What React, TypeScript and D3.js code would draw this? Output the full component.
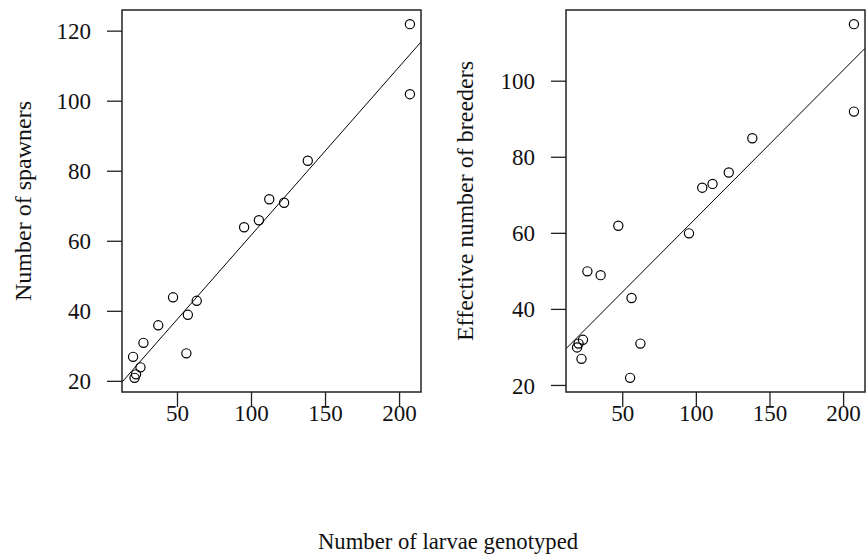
import React from "react";
import * as d3 from "d3";

// Left panel: number of larvae genotyped vs number of spawners
const larvaeA = [207, 207, 138, 112, 122, 105, 95, 47, 63, 57, 37, 27, 56, 20, 25, 22, 21];
const spawners = [122, 102, 83, 72, 71, 66, 64, 44, 43, 39, 36, 31, 28, 27, 24, 22, 21];
// Right panel: number of larvae genotyped vs effective number of breeders
const larvaeB = [207, 207, 138, 122, 111, 104, 47, 95, 26, 35, 56, 23, 20, 19, 62, 22, 55];
const breeders = [115, 92, 85, 76, 73, 72, 62, 60, 50, 49, 43, 32, 31, 30, 31, 27, 22];

const xTicks = [50, 100, 150, 200];
const yTicksA = [20, 40, 60, 80, 100, 120];
const yTicksB = [20, 40, 60, 80, 100];

// fitted regression lines (intercept, slope)
const fitA = [13.75, 0.481];
const fitB = [25.2, 0.389];

const FONT = "Times New Roman, Liberation Serif, Tinos, serif";
const FS_TICK = 23;
const FS_YLAB = 24;
const FS_XLAB = 22.7;

function rExtent(v: number[]): [number, number] {
  const [a, b] = d3.extent(v) as [number, number];
  const pad = (b - a) * 0.04;
  return [a - pad, b + pad];
}

type PanelProps = {
  id: string;
  x0: number;
  x1: number;
  y0: number;
  y1: number;
  xs: number[];
  ys: number[];
  yTicks: number[];
  fit: number[];
  ylabel: string;
  ylabelX: number;
};

function Panel({ id, x0, x1, y0, y1, xs, ys, yTicks, fit, ylabel, ylabelX }: PanelProps) {
  const x = d3.scaleLinear().domain(rExtent(xs)).range([x0, x1]);
  const y = d3.scaleLinear().domain(rExtent(ys)).range([y1, y0]);
  const [dx0, dx1] = x.domain();
  const line = d3
    .line<number>()
    .x((d) => x(d))
    .y((d) => y(fit[0] + fit[1] * d));
  return (
    <g>
      <defs>
        <clipPath id={id}>
          <rect x={x0} y={y0} width={x1 - x0} height={y1 - y0} />
        </clipPath>
      </defs>
      <path d={line([dx0, dx1]) || ""} fill="none" stroke="#000" strokeWidth={1} clipPath={`url(#${id})`} />
      {xs.map((d, i) => (
        <circle key={i} cx={x(d)} cy={y(ys[i])} r={4.6} fill="none" stroke="#000" strokeWidth={1.2} />
      ))}
      <rect x={x0} y={y0} width={x1 - x0} height={y1 - y0} fill="none" stroke="#222" strokeWidth={1.5} />
      {xTicks.map((t) => (
        <g key={t}>
          <line x1={x(t)} x2={x(t)} y1={y1} y2={y1 + 15} stroke="#222" strokeWidth={1.3} />
          <text x={x(t)} y={y1 + 29} textAnchor="middle" fontFamily={FONT} fontSize={FS_TICK} fill="#111">
            {t}
          </text>
        </g>
      ))}
      {yTicks.map((t) => (
        <g key={t}>
          <line x1={x0 - 15} x2={x0} y1={y(t)} y2={y(t)} stroke="#222" strokeWidth={1.3} />
          <text
            x={x0 - 31}
            y={y(t)}
            dy="0.35em"
            textAnchor="end"
            fontFamily={FONT}
            fontSize={FS_TICK}
            fill="#111"
          >
            {t}
          </text>
        </g>
      ))}
      <text
        transform={`translate(${ylabelX},${(y0 + y1) / 2}) rotate(-90)`}
        textAnchor="middle"
        dy="0.35em"
        fontFamily={FONT}
        fontSize={FS_YLAB}
        fill="#111"
      >
        {ylabel}
      </text>
    </g>
  );
}

export default function App() {
  return (
    <svg width={866} height={560} style={{ position: "absolute", left: 0, top: 0, background: "#fff" }}>
      <Panel
        id="clipA"
        x0={122}
        x1={421}
        y0={10}
        y1={392}
        xs={larvaeA}
        ys={spawners}
        yTicks={yTicksA}
        fit={fitA}
        ylabel="Number of spawners"
        ylabelX={23}
      />
      <Panel
        id="clipB"
        x0={566}
        x1={865}
        y0={10}
        y1={392}
        xs={larvaeB}
        ys={breeders}
        yTicks={yTicksB}
        fit={fitB}
        ylabel="Effective number of breeders"
        ylabelX={465}
      />
      <text x={448} y={549} textAnchor="middle" fontFamily={FONT} fontSize={FS_XLAB} fill="#111">
        Number of larvae genotyped
      </text>
    </svg>
  );
}
